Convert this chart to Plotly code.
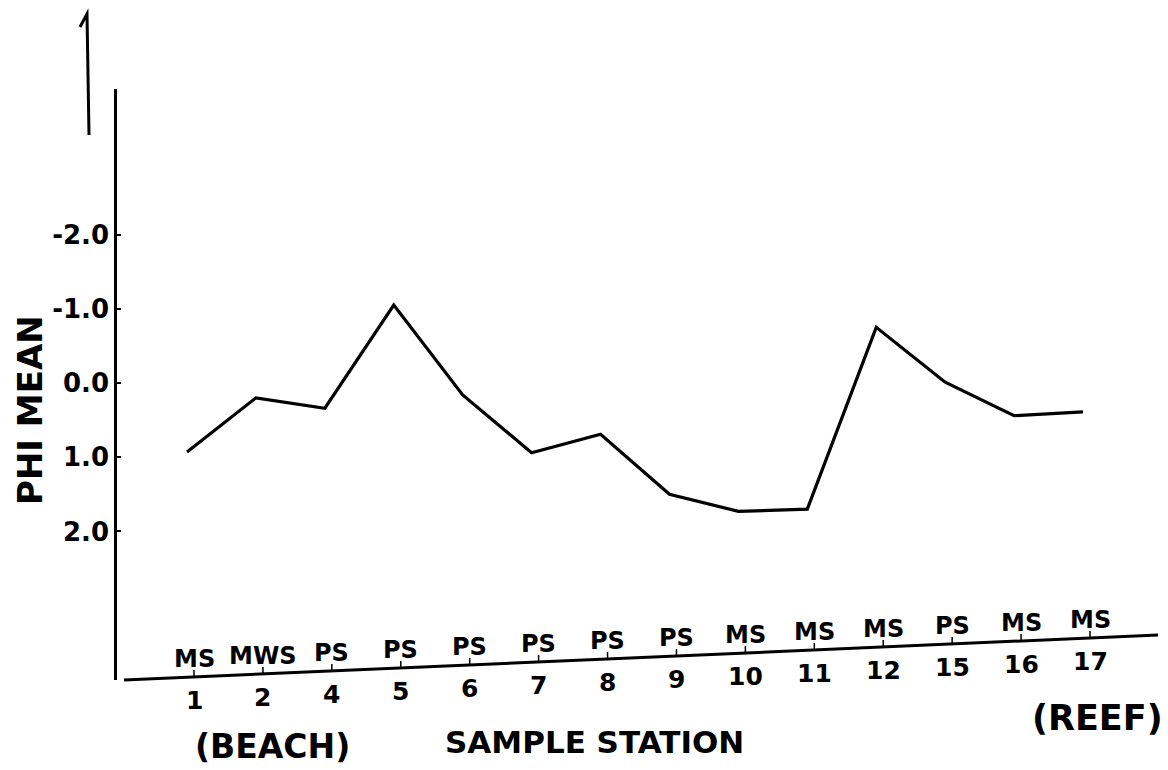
import plotly.graph_objects as go

# ---- data ----
stations = ["1", "2", "4", "5", "6", "7", "8", "9", "10", "11", "12", "15", "16", "17"]
sediment = ["MS", "MWS", "PS", "PS", "PS", "PS", "PS", "PS", "MS", "MS", "MS", "PS", "MS", "MS"]
phi_mean = [0.93, 0.20, 0.34, -1.05, 0.16, 0.94, 0.69, 1.50, 1.73, 1.70, -0.75, -0.01, 0.44, 0.39]
y_tickvals = [-2, -1, 0, 1, 2]
y_ticktext = ["-2.0", "-1.0", "0.0", "1.0", "2.0"]

# ---- layout geometry (pixels of the 1168x770 page) ----
W, H = 1168, 770
L, R, T, B = 117, 1160, 89, 680          # plot area edges
PW, PH = R - L, B - T
FONT = "DejaVu Sans"


def px_to_paper_x(px):
    return (px - L) / PW


def px_to_paper_y(py):
    return (B - py) / PH


# tilted hand-drawn x axis: from (124,680) to (1158,635)
ax_x0, ax_y0, ax_x1, ax_y1 = 124, 680, 1158, 635


def axis_y_at(px):
    return ax_y0 + (ax_y1 - ax_y0) * (px - ax_x0) / (ax_x1 - ax_x0)


def tfont(size):
    return dict(family=FONT, size=size, color="black", weight="bold")


fig = go.Figure()
fig.add_trace(go.Scatter(
    x=stations, y=phi_mean, mode="lines",
    line=dict(color="black", width=3.2),
    hoverinfo="skip", showlegend=False,
))

annotations = []
shapes = []
# station / sediment labels along the tilted axis (x = category index)
x_first, x_step = 187, (1083 - 187) / 13
label_shift = 7
for i, (st, sed) in enumerate(zip(stations, sediment)):
    px = x_first + x_step * i + label_shift
    ay = axis_y_at(px)
    yp = px_to_paper_y(ay)
    annotations.append(dict(x=i, xref="x", y=yp, yref="paper", text=sed,
                            showarrow=False, xshift=label_shift, yshift=18,
                            xanchor="center", yanchor="middle", font=tfont(24)))
    annotations.append(dict(x=i, xref="x", y=yp, yref="paper", text=st,
                            showarrow=False, xshift=label_shift, yshift=-24,
                            xanchor="center", yanchor="middle", font=tfont(25)))
    # small hand-drawn tick crossing the axis
    xt = i + label_shift / x_step
    shapes.append(dict(type="line", xref="x", yref="paper",
                       x0=xt, x1=xt, y0=px_to_paper_y(ay + 1), y1=px_to_paper_y(ay - 7),
                       line=dict(color="black", width=1.5)))


def paper_text(text, px, py, size, angle=0):
    return dict(x=px_to_paper_x(px), y=px_to_paper_y(py), xref="paper", yref="paper",
                text=text, textangle=angle, showarrow=False,
                xanchor="center", yanchor="middle", font=tfont(size))


annotations += [
    paper_text("PHI MEAN", 30, 410, 34, angle=-90),
    paper_text("(BEACH)", 272, 746, 33),
    paper_text("SAMPLE STATION", 594, 742, 31),
    paper_text("(REEF)", 1097, 718, 35),
]

shapes += [
    # tilted x axis line
    dict(type="line", xref="paper", yref="paper",
         x0=px_to_paper_x(ax_x0), y0=px_to_paper_y(ax_y0),
         x1=px_to_paper_x(ax_x1), y1=px_to_paper_y(ax_y1),
         line=dict(color="black", width=3)),
    # stray stroke at top-left of the scan
    dict(type="path", xref="paper", yref="paper",
         path="M {} {} L {} {} L {} {}".format(
             px_to_paper_x(80), px_to_paper_y(27),
             px_to_paper_x(87), px_to_paper_y(14),
             px_to_paper_x(89), px_to_paper_y(135)),
         line=dict(color="black", width=3)),
]

fig.update_layout(
    width=W, height=H,
    margin=dict(l=L, r=W - R, t=T, b=H - B, pad=0),
    paper_bgcolor="white", plot_bgcolor="white",
    showlegend=False,
    annotations=annotations,
    shapes=shapes,
    xaxis=dict(type="category", range=[(L - x_first) / x_step, (R - x_first) / x_step],
               showline=False, showgrid=False, zeroline=False,
               showticklabels=False, ticks=""),
    yaxis=dict(range=[(B - 383) / 74.2, (T - 383) / 74.2],
               tickvals=y_tickvals, ticktext=y_ticktext,
               showline=True, linecolor="black", linewidth=2.5,
               ticks="inside", ticklen=4, tickwidth=2, tickcolor="black",
               showgrid=False, zeroline=False,
               tickfont=tfont(26)),
)

fig.write_html("out.html")
